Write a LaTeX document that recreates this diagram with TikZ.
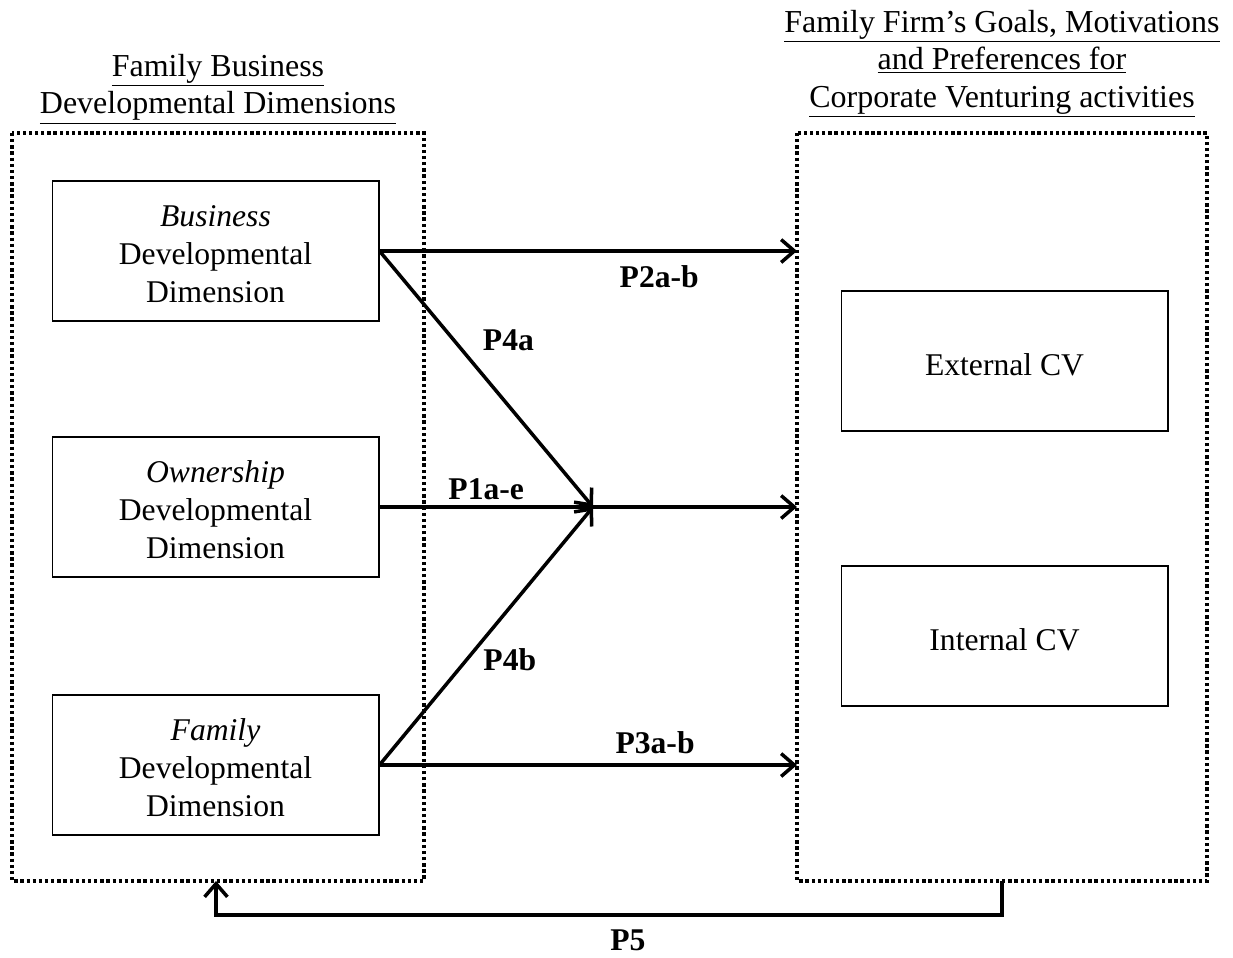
\documentclass[tikz,border=0pt]{standalone}
\usepackage{fontspec}
\setmainfont{Liberation Serif}
\usetikzlibrary{arrows.meta, positioning}

\tikzset{
	dimbox/.style={draw, line width=0.6pt, minimum width=6.54cm, minimum height=2.8cm,
		align=center, text height=59pt, text depth=0pt, font=\fontsize{18}{21.6}\selectfont},
	cvbox/.style={draw, line width=0.6pt, minimum width=6.54cm, minimum height=2.8cm,
		text height=16pt, text depth=0pt, font=\fontsize{18}{21.6}\selectfont},
	groupbox/.style={draw, line width=2pt, dash pattern=on 1.9pt off 1.6pt},
	heading/.style={align=center, font=\fontsize{18.2}{21.3}\selectfont},
	link/.style={line width=2pt, -{Straight Barb[length=7.5pt, width=13pt, line width=2pt]}},
	plain link/.style={line width=2pt},
	plabel/.style={font=\fontsize{18}{21.6}\selectfont\bfseries}
}

\begin{document}
\begin{tikzpicture}[x=0.02cm, y=-0.02cm]
	\useasboundingbox (0, 0) rectangle (1233, 957);

	% groups and headings
	\draw [groupbox] (12, 133) rectangle (424, 881);
	\draw [groupbox] (797, 133) rectangle (1207, 881);
	\coordinate (Lbot) at (216, 881);
	\coordinate (Rbot) at (1002, 881);
	\coordinate (Rin) at (797, 500);

	\node [heading] (lhead) at (218, 89) {\underline{Family Business}\\\underline{Developmental Dimensions}};
	\node [heading] (rhead) at (1002, 64) {\underline{Family Firm’s Goals, Motivations}\\\underline{and Preferences for}\\\underline{Corporate Venturing activities}};

	% developmental dimensions
	\node [dimbox] (business) at (215.5, 251) {\textit{Business}\\Developmental\\Dimension};
	\node [dimbox] (ownership) at (215.5, 507) {\textit{Ownership}\\Developmental\\Dimension};
	\node [dimbox] (family) at (215.5, 765) {\textit{Family}\\Developmental\\Dimension};

	% corporate venturing
	\node [cvbox] (external) at (1004.5, 361) {External CV};
	\node [cvbox] (internal) at (1004.5, 636) {Internal CV};

	% propositions
	\coordinate (J) at (593, 507);
	\draw [link] (business.east) -- (business.east -| Rin) node[pos=0.67, below=4pt, plabel]{P2a-b};
	\draw [link] (business.east) -- (J) node[pos=0.35, right=12pt, plabel]{P4a};
	\draw [plain link] (ownership.east) -- (J) node[midway, above, plabel]{P1a-e};
	\draw [link] (J) -- (J -| Rin);
	\draw [link] (family.east) -- (J) node[pos=0.41, right=5pt, plabel]{P4b};
	\draw [link] (family.east) -- (family.east -| Rin) node[pos=0.66, above=2pt, plabel]{P3a-b};
	\draw [link] (Rbot) -- ++(0, 34) -| (Lbot) node[pos=0.238, below=4pt, plabel]{P5};
\end{tikzpicture}
\end{document}
